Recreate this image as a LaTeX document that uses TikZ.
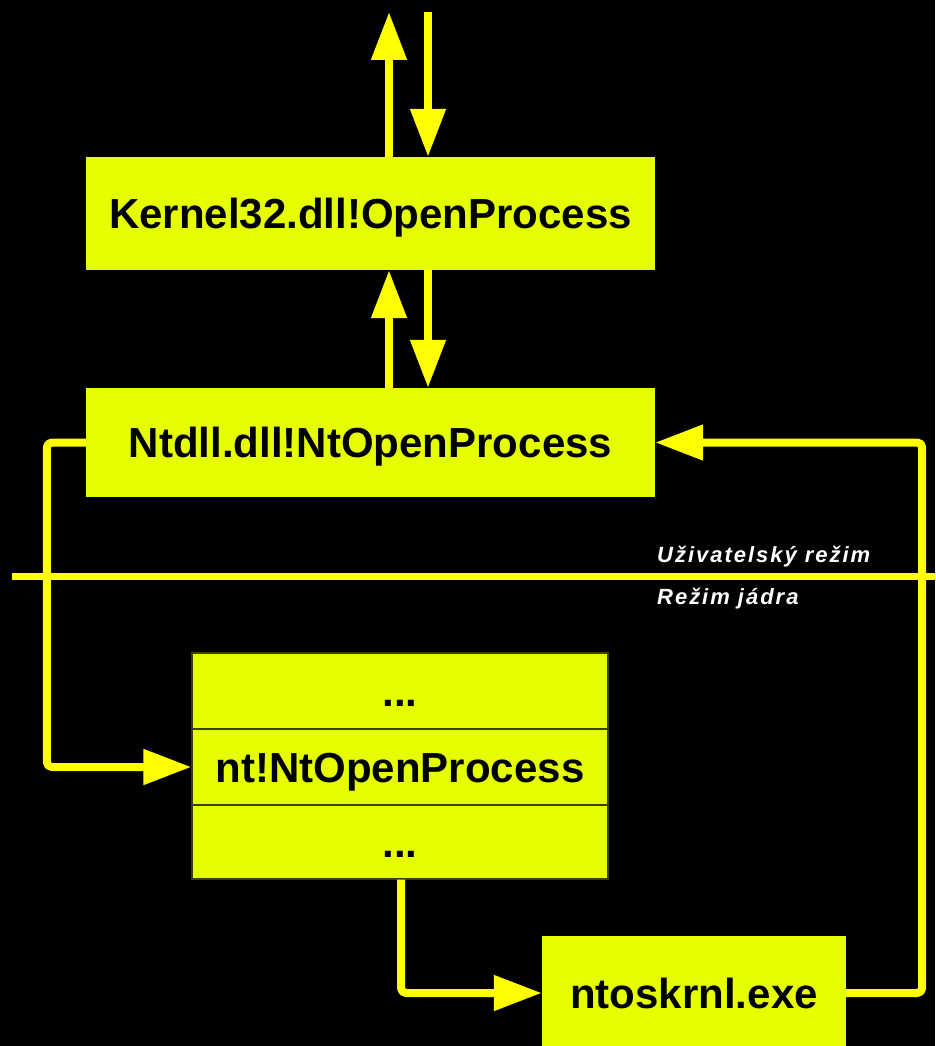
\documentclass[tikz,border=0pt]{standalone}
\usepackage{fontspec}
\setmainfont{Liberation Sans}
\newfontfamily\lblfont[LetterSpace=9]{Liberation Sans}
\usetikzlibrary{arrows.meta}
\definecolor{boxfill}{HTML}{E6FF00}
\definecolor{arrowcol}{HTML}{FFFF00}
\definecolor{rowline}{HTML}{3A4000}
\begin{document}
\begin{tikzpicture}[x=1pt,y=-1pt,
  box/.style={fill=boxfill, draw=none, inner sep=0pt, text=black,
    text height=30pt, text depth=0pt,
    font=\fontsize{42}{50}\selectfont\bfseries},
  rowbox/.style={box, draw=rowline, line width=1.2pt, minimum width=416pt},
  conn/.style={draw=arrowcol, line width=8pt, line join=round,
    -{Triangle[length=48pt,width=34pt]}},
  modelbl/.style={text=white, inner sep=0pt, anchor=base west,
    font=\lblfont\fontsize{22}{26}\selectfont\bfseries\itshape}
]
\fill[black] (0,0) rectangle (935,1046);
\useasboundingbox (0,0) rectangle (935,1046);

% boxes
\node[box, minimum width=569pt, minimum height=113pt] (k) at (370.5,213.5) {Kernel32.dll!OpenProcess};
\node[box, minimum width=569pt, minimum height=109pt] (n) at (370.5,442.5) {Ntdll.dll!NtOpenProcess};
\node[rowbox, minimum height=76pt] (r1) at (400,691) {...};
\node[rowbox, minimum height=76pt] (r2) at (400,767) {nt!NtOpenProcess};
\node[rowbox, minimum height=74pt] (r3) at (400,842) {...};
\node[box, minimum width=304pt, minimum height=114pt] (o) at (694,993) {ntoskrnl.exe};

% user / kernel divider
\coordinate (dl) at (12,576);
\coordinate (dr) at (935,576);
\draw[arrowcol, line width=7pt] (dl) -- (dr);
\node[modelbl] (um) at (657,562) {Uživatelský režim};
\node[modelbl] (km) at (657,604) {Režim jádra};

% top arrows
\coordinate (topU) at (389,12);
\coordinate (topD) at (428,12);
\draw[conn] (k.north -| topU) -- (topU);
\draw[conn] (topD) -- (topD |- k.north);

% middle arrows
\draw[conn] (topU |- n.north) -- (topU |- k.south);
\draw[conn] (topD |- k.south) -- (topD |- n.north);

% Ntdll -> nt!NtOpenProcess
\draw[conn, rounded corners=5pt] (n.west) -- ++(-39,0) |- (r2.west);

% nt -> ntoskrnl
\draw[conn, rounded corners=5pt] ([xshift=1pt]r3.south) |- (o.west);

% ntoskrnl -> Ntdll
\draw[conn, rounded corners=5pt] (o.east) -- ++(76,0) |- (n.east);
\end{tikzpicture}
\end{document}
